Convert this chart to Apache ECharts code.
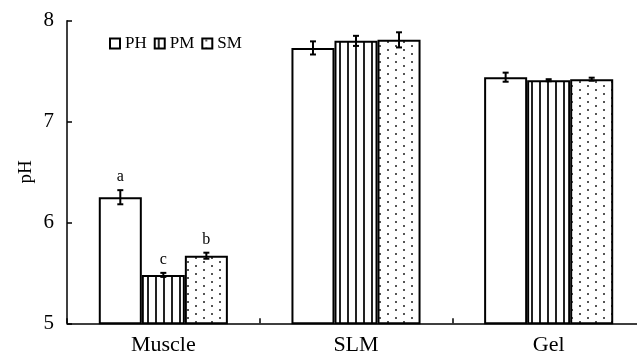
<!DOCTYPE html>
<html>
<head>
<meta charset="utf-8">
<script src="https://cdn.jsdelivr.net/npm/echarts@6/dist/echarts.min.js"></script>
<style>
html,body{margin:0;padding:0;background:#fff;overflow:hidden;}
#c{width:645px;height:358px;}
</style>
</head>
<body>
<div id="c"></div>
<script>
var categories = ['Muscle', 'SLM', 'Gel'];
var seriesNames = ['PH', 'PM', 'SM'];
var valuesPH = [6.25, 7.73, 7.44];
var valuesPM = [5.48, 7.80, 7.41];
var valuesSM = [5.67, 7.81, 7.42];
var errPH = [0.07, 0.065, 0.045];
var errPM = [0.02, 0.05, 0.01];
var errSM = [0.03, 0.075, 0.015];
var lettersPH = ['a', '', ''];
var lettersPM = ['c', '', ''];
var lettersSM = ['b', '', ''];
var yTicks = [5, 6, 7, 8];

var FONT = '"Liberation Serif", "Times New Roman", serif';

function stripePattern() {
  var c = document.createElement('canvas');
  c.width = 8; c.height = 8;
  var g = c.getContext('2d');
  g.fillStyle = '#fff'; g.fillRect(0, 0, 8, 8);
  g.fillStyle = '#222'; g.fillRect(3, 0, 2, 8);
  return c;
}
function dotPattern() {
  var c = document.createElement('canvas');
  c.width = 16; c.height = 8;
  var g = c.getContext('2d');
  g.fillStyle = '#fff'; g.fillRect(0, 0, 16, 8);
  g.fillStyle = '#555';
  g.fillRect(3, 1, 2, 2);
  g.fillRect(11, 5, 2, 2);
  return c;
}

var fills = ['#ffffff', { image: stripePattern(), repeat: 'repeat' }, { image: dotPattern(), repeat: 'repeat' }];
var allValues = [valuesPH, valuesPM, valuesSM];
var allErr = [errPH, errPM, errSM];
var allLetters = [lettersPH, lettersPM, lettersSM];

var series = [];
seriesNames.forEach(function (name, s) {
  series.push({
    name: name,
    type: 'bar',
    data: allValues[s],
    barGap: '0%',
    barCategoryGap: '33%',
    itemStyle: { color: fills[s], borderColor: '#000', borderWidth: 2 },
    z: 2
  });
});

var errData = [];
for (var s = 0; s < 3; s++) {
  for (var i = 0; i < categories.length; i++) {
    errData.push([i, allValues[s][i], allErr[s][i], s]);
  }
}
var errLetters = [];
for (var s2 = 0; s2 < 3; s2++) {
  for (var j = 0; j < categories.length; j++) errLetters.push(allLetters[s2][j]);
}

series.push({
  type: 'custom',
  z: 5,
  silent: true,
  data: errData,
  renderItem: function (params, api) {
    var cat = api.value(0), val = api.value(1), err = api.value(2), si = api.value(3);
    var band = api.size([1, 0])[0];
    var bw = band * 0.67 / 3;
    var cx = api.coord([cat, val])[0] + (si - 1) * bw;
    var yT = api.coord([cat, val + err])[1];
    var yB = api.coord([cat, val - err])[1];
    var hw = 3;
    var st = { stroke: '#000', lineWidth: 2 };
    var children = [
      { type: 'line', shape: { x1: cx, y1: yT, x2: cx, y2: yB }, style: st },
      { type: 'line', shape: { x1: cx - hw, y1: yT, x2: cx + hw, y2: yT }, style: st },
      { type: 'line', shape: { x1: cx - hw, y1: yB, x2: cx + hw, y2: yB }, style: st }
    ];
    var letter = errLetters[params.dataIndex];
    if (letter) {
      children.push({
        type: 'text',
        style: {
          text: letter, x: cx, y: yT - 5,
          align: 'center', verticalAlign: 'bottom',
          font: '16px ' + FONT, fill: '#000'
        }
      });
    }
    return { type: 'group', children: children };
  }
});

var chart = echarts.init(document.getElementById('c'));
chart.setOption({
  animation: false,
  backgroundColor: '#fff',
  grid: { left: 67, right: 0, top: 20.7, bottom: 34.7, outerBoundsMode: 'none' },
  legend: {
    data: seriesNames,
    left: 104, top: 30,
    itemWidth: 10, itemHeight: 10, itemGap: 7,
    icon: 'rect',
    itemStyle: { borderWidth: 2, borderColor: '#000' },
    textStyle: { fontFamily: FONT, fontSize: 17, color: '#000' }
  },
  xAxis: {
    type: 'category',
    data: categories,
    axisLine: { lineStyle: { color: '#000', width: 1.5 } },
    axisTick: { show: true, inside: true, length: 5, alignWithLabel: false, lineStyle: { color: '#000', width: 1.5 } },
    axisLabel: { fontFamily: FONT, fontSize: 22, color: '#000', margin: 11 },
    splitLine: { show: false }
  },
  yAxis: {
    type: 'value',
    min: yTicks[0], max: yTicks[yTicks.length - 1], interval: 1,
    name: 'pH',
    nameLocation: 'middle',
    nameGap: 31,
    nameMoveOverlap: false,
    nameRotate: 90,
    nameTextStyle: { fontFamily: FONT, fontSize: 19, color: '#000' },
    axisLine: { show: true, lineStyle: { color: '#000', width: 1.5 } },
    axisTick: { show: true, inside: true, length: 5, lineStyle: { color: '#000', width: 1.5 } },
    axisLabel: { fontFamily: FONT, fontSize: 21, color: '#000', margin: 13 },
    splitLine: { show: false }
  },
  series: series
});
</script>
</body>
</html>
